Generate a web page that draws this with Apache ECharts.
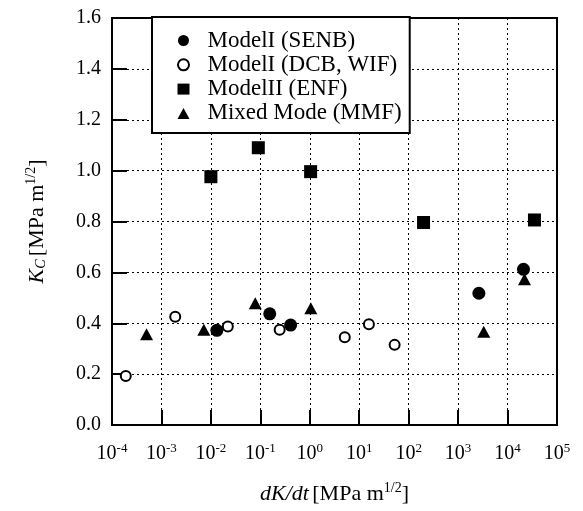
<!DOCTYPE html>
<html>
<head>
<meta charset="utf-8">
<script src="https://cdn.jsdelivr.net/npm/echarts@6/dist/echarts.min.js"></script>
<style>
  html, body { margin: 0; padding: 0; background: #fff; }
  #chart { width: 583px; height: 511px; }
</style>
</head>
<body>
<div id="chart"></div>
<script>
// data: [dK/dt, Kc]
var senb = [[0.0132, 0.372], [0.155, 0.437], [0.41, 0.393], [2630, 0.518], [21000, 0.612]];
var dcbWif = [[0.00019, 0.193], [0.0019, 0.426], [0.022, 0.387], [0.246, 0.374], [5.1, 0.345], [15.7, 0.396], [52, 0.315]];
var enf = [[0.0100, 0.976], [0.091, 1.09], [1.04, 0.996], [200, 0.796], [35000, 0.806]];
var mmf = [[0.0005, 0.357], [0.0072, 0.374], [0.079, 0.479], [1.05, 0.459], [3300, 0.367], [22000, 0.573]];
var seriesNames = ['ModelI (SENB)', 'ModelI (DCB, WIF)', 'ModelII (ENF)', 'Mixed Mode (MMF)'];

var font = '"Liberation Serif", "Times New Roman", serif';
var chart = echarts.init(document.getElementById('chart'));

chart.setOption({
  animation: false,
  grid: {
    left: 112, right: 26, top: 18, bottom: 86,
    show: true, borderColor: '#000', borderWidth: 2, backgroundColor: 'transparent'
  },
  legend: {
    orient: 'vertical',
    left: 152, top: 17,
    data: seriesNames,
    backgroundColor: '#fff',
    borderColor: '#000', borderWidth: 2, borderRadius: 0,
    padding: [12, 8, 8, 25],
    itemWidth: 12, itemHeight: 11, itemGap: 1.3,
    textStyle: { fontFamily: font, fontSize: 23, color: '#000', lineHeight: 23, padding: [0, 0, 0, 13] }
  },
  xAxis: {
    type: 'log', logBase: 10, min: 1e-4, max: 1e5,
    axisLine: { lineStyle: { color: '#000', width: 2 } },
    axisTick: { inside: true, length: 15, lineStyle: { color: '#000', width: 2 } },
    minorTick: { show: false },
    splitLine: { show: true, lineStyle: { color: '#000', type: [2, 3], width: 1 } },
    axisLabel: {
      margin: 17,
      formatter: function (v) {
        var e = Math.round(Math.log10(v));
        return '{b|10}{sup|' + e + '}';
      },
      rich: {
        b: { fontFamily: font, fontSize: 20, color: '#000' },
        sup: { fontFamily: font, fontSize: 13, color: '#000', padding: [0, 0, 11, 0] }
      }
    },
    name: '{i|dK/dt} {b|[MPa m}{sup|1/2}{b|]}',
    nameLocation: 'middle', nameGap: 56,
    nameTextStyle: {
      rich: {
        i: { fontFamily: font, fontSize: 22, fontStyle: 'italic', color: '#000' },
        b: { fontFamily: font, fontSize: 22, color: '#000' },
        sup: { fontFamily: font, fontSize: 14, color: '#000', padding: [0, 0, 12, 0] }
      }
    }
  },
  yAxis: {
    type: 'value', min: 0, max: 1.6, interval: 0.2,
    axisLine: { lineStyle: { color: '#000', width: 2 } },
    axisTick: { inside: true, length: 15, lineStyle: { color: '#000', width: 2 } },
    splitLine: { show: true, lineStyle: { color: '#000', type: [2, 3], width: 1 } },
    axisLabel: {
      margin: 11, fontFamily: font, fontSize: 20, color: '#000',
      formatter: function (v) { return v.toFixed(1); }
    },
    name: '{i|K}{sub|C} {b|[MPa m}{sup|1/2}{b|]}',
    nameLocation: 'middle', nameGap: 62, nameRotate: 90,
    nameTextStyle: {
      rich: {
        i: { fontFamily: font, fontSize: 22, fontStyle: 'italic', color: '#000' },
        sub: { fontFamily: font, fontSize: 14, fontStyle: 'italic', color: '#000', padding: [9, 0, 0, 0] },
        b: { fontFamily: font, fontSize: 22, color: '#000' },
        sup: { fontFamily: font, fontSize: 14, color: '#000', padding: [0, 0, 12, 0] }
      }
    }
  },
  series: [
    { name: seriesNames[0], type: 'scatter', data: senb, symbol: 'circle', symbolSize: 13,
      itemStyle: { color: '#000', opacity: 1 } },
    { name: seriesNames[1], type: 'scatter', data: dcbWif, symbol: 'emptyCircle', symbolSize: 10,
      itemStyle: { color: '#000', borderWidth: 2, opacity: 1 } },
    { name: seriesNames[2], type: 'scatter', data: enf, symbol: 'rect', symbolSize: 13,
      itemStyle: { color: '#000', opacity: 1 } },
    { name: seriesNames[3], type: 'scatter', data: mmf, symbol: 'triangle', symbolSize: [13, 12],
      itemStyle: { color: '#000', opacity: 1 } }
  ]
});
</script>
</body>
</html>
